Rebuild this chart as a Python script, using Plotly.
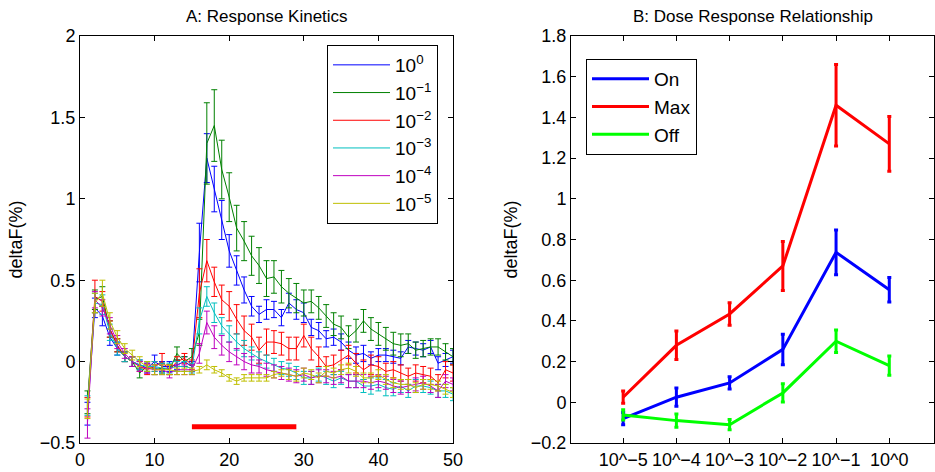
import plotly.graph_objects as go

# ---------------- Panel A data ----------------
time_pts = list(range(1, 51))

blue = [-0.32, 0.33, 0.28, 0.15, 0.08, 0.03, 0.00, -0.02, -0.04, 0.00, -0.03, -0.03, -0.02, 0.00, -0.03,
        0.67, 1.25, 1.06, 0.87, 0.68, 0.56, 0.44, 0.34, 0.29, 0.32, 0.32, 0.27, 0.36, 0.32, 0.30,
        0.21, 0.19, 0.14, 0.15, 0.12, 0.07, 0.04, 0.05, 0.02, 0.04, 0.04, 0.03, 0.02, 0.09, 0.08,
        0.07, 0.09, -0.01, 0.01, 0.03]
green = [-0.25, 0.38, 0.40, 0.20, 0.10, 0.03, 0.00, -0.07, -0.03, -0.05, -0.04, -0.05, 0.05, 0.00, 0.03,
         0.18, 1.34, 1.45, 1.18, 1.01, 0.82, 0.74, 0.65, 0.59, 0.51, 0.52, 0.46, 0.42, 0.39, 0.36,
         0.37, 0.33, 0.28, 0.23, 0.21, 0.15, 0.19, 0.25, 0.20, 0.17, 0.14, 0.11, 0.10, 0.11, 0.07,
         0.08, 0.09, 0.09, 0.06, 0.03]
red = [-0.28, 0.40, 0.37, 0.20, 0.10, 0.03, 0.00, -0.03, -0.05, -0.03, 0.00, -0.05, 0.00, 0.02, -0.02,
       0.42, 0.62, 0.49, 0.38, 0.34, 0.26, 0.19, 0.15, 0.07, 0.12, 0.12, 0.11, 0.08, 0.08, 0.16,
       0.08, 0.03, -0.03, -0.02, 0.01, 0.04, -0.01, -0.05, -0.02, -0.03, -0.06, -0.05, -0.07, -0.09, -0.07,
       -0.08, -0.09, -0.13, -0.05, -0.07]
cyan = [-0.27, 0.36, 0.35, 0.18, 0.08, 0.03, 0.00, -0.02, -0.03, -0.03, -0.04, -0.04, -0.03, -0.03, -0.04,
        0.25, 0.40, 0.30, 0.22, 0.17, 0.12, 0.08, 0.05, 0.02, 0.00, -0.02, -0.04, -0.05, -0.07, -0.10,
        -0.10, -0.08, -0.10, -0.12, -0.10, -0.12, -0.12, -0.15, -0.15, -0.14, -0.16, -0.17, -0.15, -0.18, -0.15,
        -0.15, -0.16, -0.18, -0.18, -0.20]
magenta = [-0.38, 0.38, 0.33, 0.22, 0.12, 0.05, 0.00, -0.03, -0.04, -0.05, -0.05, -0.07, -0.05, -0.05, -0.05,
           0.05, 0.24, 0.15, 0.10, 0.06, 0.03, 0.00, -0.02, -0.03, -0.05, -0.06, -0.07, -0.08, -0.09, -0.08,
           -0.10, -0.09, -0.09, -0.10, -0.09, -0.12, -0.12, -0.12, -0.13, -0.12, -0.13, -0.15, -0.16, -0.15, -0.14,
           -0.13, -0.15, -0.18, -0.12, -0.14]
yellow = [-0.29, 0.36, 0.42, 0.25, 0.15, 0.08, 0.04, 0.00, -0.03, -0.05, -0.05, -0.05, -0.06, -0.06, -0.06,
          -0.05, -0.02, -0.05, -0.07, -0.10, -0.12, -0.10, -0.10, -0.10, -0.10, -0.08, -0.07, -0.08, -0.09, -0.07,
          -0.08, -0.10, -0.06, -0.07, -0.05, -0.04, -0.06, -0.10, -0.10, -0.08, -0.11, -0.13, -0.14, -0.14, -0.16,
          -0.14, -0.14, -0.15, -0.17, -0.19]

blue_err = [0.07, 0.06, 0.06, 0.05, 0.04, 0.03, 0.03, 0.03, 0.03, 0.04, 0.03, 0.03, 0.03, 0.03, 0.03,
            0.18, 0.15, 0.14, 0.12, 0.10, 0.09, 0.08, 0.06, 0.05, 0.06, 0.05, 0.05, 0.06, 0.06, 0.06,
            0.05, 0.05, 0.05, 0.05, 0.05, 0.05, 0.05, 0.05, 0.04, 0.04, 0.04, 0.04, 0.04, 0.04, 0.04,
            0.04, 0.04, 0.04, 0.04, 0.04]
green_err = [0.07, 0.06, 0.06, 0.05, 0.04, 0.03, 0.03, 0.03, 0.03, 0.03, 0.03, 0.03, 0.04, 0.03, 0.05,
             0.08, 0.25, 0.22, 0.18, 0.15, 0.14, 0.12, 0.12, 0.11, 0.11, 0.10, 0.10, 0.09, 0.09, 0.08,
             0.07, 0.07, 0.07, 0.07, 0.07, 0.07, 0.07, 0.07, 0.07, 0.07, 0.07, 0.07, 0.07, 0.06, 0.05,
             0.05, 0.05, 0.05, 0.05, 0.05]
red_err = [0.06, 0.10, 0.06, 0.05, 0.04, 0.03, 0.03, 0.03, 0.03, 0.03, 0.05, 0.03, 0.03, 0.03, 0.03,
           0.15, 0.13, 0.09, 0.09, 0.09, 0.09, 0.09, 0.08, 0.08, 0.08, 0.07, 0.07, 0.07, 0.07, 0.07,
           0.07, 0.06, 0.06, 0.06, 0.06, 0.06, 0.06, 0.06, 0.06, 0.06, 0.05, 0.05, 0.05, 0.05, 0.05,
           0.05, 0.05, 0.05, 0.05, 0.05]
cyan_err = [0.06, 0.06, 0.06, 0.05, 0.04, 0.03, 0.03, 0.03, 0.03, 0.03, 0.03, 0.03, 0.03, 0.03, 0.03,
            0.08, 0.06, 0.06, 0.05, 0.05, 0.05, 0.05, 0.04, 0.04, 0.04, 0.04, 0.04, 0.04, 0.04, 0.04,
            0.04, 0.04, 0.04, 0.04, 0.04, 0.04, 0.04, 0.04, 0.05, 0.04, 0.05, 0.04, 0.04, 0.04, 0.04,
            0.04, 0.04, 0.04, 0.04, 0.04]
magenta_err = [0.09, 0.05, 0.05, 0.05, 0.04, 0.03, 0.03, 0.03, 0.03, 0.03, 0.03, 0.03, 0.03, 0.03, 0.03,
               0.06, 0.07, 0.07, 0.06, 0.06, 0.05, 0.05, 0.05, 0.04, 0.04, 0.04, 0.04, 0.04, 0.04, 0.04,
               0.04, 0.04, 0.04, 0.04, 0.04, 0.04, 0.04, 0.04, 0.04, 0.04, 0.04, 0.04, 0.04, 0.04, 0.04,
               0.04, 0.04, 0.04, 0.04, 0.04]
yellow_err = [0.06, 0.06, 0.08, 0.05, 0.04, 0.03, 0.03, 0.03, 0.03, 0.03, 0.03, 0.03, 0.02, 0.02, 0.02,
              0.02, 0.03, 0.02, 0.02, 0.02, 0.02, 0.02, 0.02, 0.02, 0.02, 0.02, 0.02, 0.03, 0.03, 0.03,
              0.03, 0.03, 0.03, 0.03, 0.03, 0.03, 0.03, 0.03, 0.03, 0.03, 0.03, 0.03, 0.03, 0.03, 0.03,
              0.03, 0.03, 0.03, 0.03, 0.03]

kin_names = ["10<sup>0</sup>", "10<sup>−1</sup>", "10<sup>−2</sup>",
             "10<sup>−3</sup>", "10<sup>−4</sup>", "10<sup>−5</sup>"]
kin_colors = ["#0000FF", "#008000", "#FF0000", "#00BFBF", "#BF00BF", "#BFBF00"]

stim_x = [15, 29]
stim_y = [-0.4, -0.4]

# ---------------- Panel B data ----------------
dose_pos = [1, 2, 3, 4, 5, 6]
dose_labels = ["10^−5", "10^−4", "10^−3", "10^−2", "10^−1", "10^0"]
on_vals = [-0.08, 0.025, 0.095, 0.26, 0.737, 0.553]
on_err = [0.03, 0.045, 0.03, 0.075, 0.11, 0.06]
max_vals = [0.025, 0.28, 0.434, 0.67, 1.46, 1.27]
max_err = [0.03, 0.07, 0.055, 0.12, 0.2, 0.135]
off_vals = [-0.062, -0.09, -0.11, 0.046, 0.30, 0.18]
off_err = [0.025, 0.033, 0.025, 0.045, 0.055, 0.047]

FONT = "Liberation Sans, Arial, Helvetica, sans-serif"

fig = go.Figure()

series = [blue, green, red, cyan, magenta, yellow]
errs = [blue_err, green_err, red_err, cyan_err, magenta_err, yellow_err]
for name, col, vals, er in zip(kin_names, kin_colors, series, errs):
    fig.add_trace(go.Scatter(
        x=time_pts, y=vals, mode="lines", name=name,
        line=dict(color=col, width=1),
        error_y=dict(type="data", array=er, visible=True, color=col, thickness=1, width=3),
        xaxis="x", yaxis="y", legend="legend"))

fig.add_trace(go.Scatter(x=stim_x, y=stim_y, mode="lines", showlegend=False,
                         line=dict(color="#FF0000", width=5), xaxis="x", yaxis="y"))

for name, col, vals, er in [("On", "#0000FF", on_vals, on_err),
                            ("Max", "#FF0000", max_vals, max_err),
                            ("Off", "#00FF00", off_vals, off_err)]:
    fig.add_trace(go.Scatter(
        x=dose_pos, y=vals, mode="lines", name=name,
        line=dict(color=col, width=3),
        error_y=dict(type="data", array=er, visible=True, color=col, thickness=3, width=2),
        xaxis="x2", yaxis="y2", legend="legend2"))

W, H = 935, 472
TICK = 18
axis_common = dict(showline=True, linecolor="black", linewidth=1, mirror="ticks",
                   ticks="inside", ticklen=5, tickcolor="black", showgrid=False,
                   zeroline=False, automargin=False, tickangle=0,
                   tickfont=dict(family=FONT, size=TICK, color="black"))

fig.update_layout(
    width=W, height=H,
    margin=dict(l=0, r=0, t=36, b=29),
    paper_bgcolor="white", plot_bgcolor="white",
    font=dict(family=FONT, color="black"),
    xaxis=dict(domain=[80 / W, 453 / W], range=[0, 50], tickvals=[0, 10, 20, 30, 40, 50],
               anchor="y", **axis_common),
    yaxis=dict(domain=[0, 1], range=[-0.5, 2], tickvals=[-0.5, 0, 0.5, 1, 1.5, 2],
               anchor="x", title=dict(text="deltaF(%)", font=dict(family=FONT, size=18), standoff=12),
               **axis_common),
    xaxis2=dict(domain=[571 / W, 934 / W], range=[0.02, 6.84], tickvals=dose_pos, ticktext=dose_labels,
                anchor="y2", **axis_common),
    yaxis2=dict(domain=[0, 1], range=[-0.2, 1.8], dtick=0.2, tick0=0, anchor="x2",
                title=dict(text="deltaF(%)", font=dict(family=FONT, size=18), standoff=8),
                **axis_common),
    legend=dict(x=327 / W, y=1 - (45 - 36) / 407, xanchor="left", yanchor="top",
                bordercolor="black", borderwidth=1, bgcolor="white",
                font=dict(family=FONT, size=19), itemwidth=57, tracegroupgap=0),
    legend2=dict(x=586 / W, y=1 - (59 - 36) / 407, xanchor="left", yanchor="top",
                 bordercolor="black", borderwidth=1, bgcolor="white",
                 font=dict(family=FONT, size=19), itemwidth=57),
    showlegend=True,
    annotations=[
        dict(text="A: Response Kinetics", x=(80 + 453) / 2 / W, y=1 + (36 - 16) / 407,
             xref="paper", yref="paper", showarrow=False, xanchor="center", yanchor="middle",
             font=dict(family=FONT, size=17)),
        dict(text="B: Dose Response Relationship", x=(571 + 934) / 2 / W, y=1 + (36 - 16) / 407,
             xref="paper", yref="paper", showarrow=False, xanchor="center", yanchor="middle",
             font=dict(family=FONT, size=17)),
    ],
)

fig.write_html("out.html")
